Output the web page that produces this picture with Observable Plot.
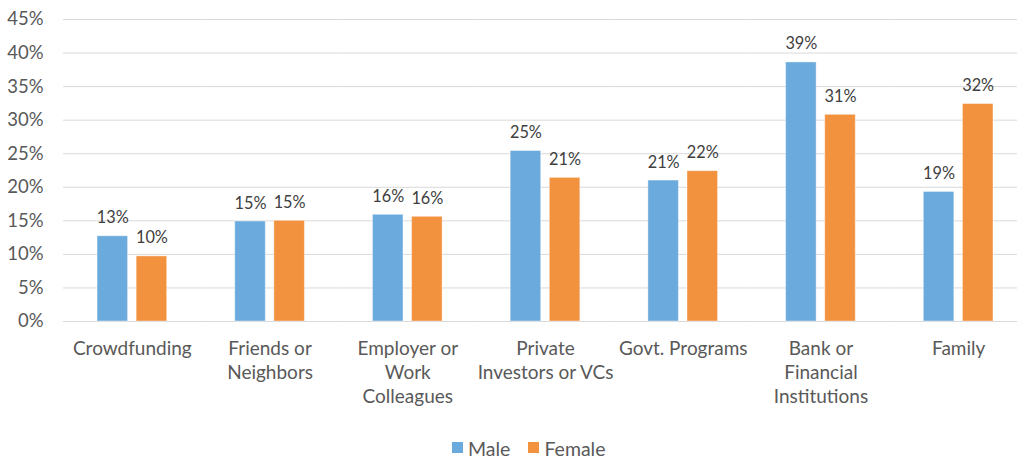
<!DOCTYPE html>
<html>
<head>
<meta charset="utf-8">
<script src="https://cdn.jsdelivr.net/npm/d3@7"></script>
<script src="https://cdn.jsdelivr.net/npm/@observablehq/plot@0.6"></script>
<style>
  html, body { margin: 0; padding: 0; background: #fff; }
  body { width: 1017px; height: 458px; overflow: hidden; font-family: Lato, "Open Sans", sans-serif; }
  #legend { position: relative; height: 28px; display: flex; align-items: center; padding-left: 452px; font-size: 19.5px; color: #595959; }
  .sw { display: inline-block; width: 11px; height: 11px; margin-right: 5px; margin-top: -2px; }
  .item { display: inline-flex; align-items: center; margin-right: 18px; }
</style>
</head>
<body>
<div id="chart"></div>
<div id="legend"></div>
<script>
const categories = ["Crowdfunding", "Friends or Neighbors", "Employer or Work Colleagues", "Private Investors or VCs", "Govt. Programs", "Bank or Financial Institutions", "Family"];
const categoryLabels = ["Crowdfunding", "Friends or\nNeighbors", "Employer or\nWork\nColleagues", "Private\nInvestors or VCs", "Govt. Programs", "Bank or\nFinancial\nInstitutions", "Family"];
const series = ["Male", "Female"];
const male = [0.127, 0.149, 0.159, 0.254, 0.210, 0.386, 0.193];
const female = [0.097, 0.150, 0.156, 0.214, 0.224, 0.308, 0.324];
const yTicks = [0, 0.05, 0.10, 0.15, 0.20, 0.25, 0.30, 0.35, 0.40, 0.45];
const colors = ["#6aaadc", "#f2913e"];

const data = categories.flatMap((c, i) => [
  {category: c, gender: series[0], value: male[i]},
  {category: c, gender: series[1], value: female[i]}
]);
const labelOf = new Map(categories.map((c, i) => [c, categoryLabels[i]]));
const pct = d3.format(".0%");

const chart = Plot.plot({
  width: 1017,
  height: 434,
  marginTop: 19,
  marginBottom: 113,
  marginLeft: 63,
  marginRight: 0,
  style: {fontFamily: "Lato, 'Open Sans', sans-serif", background: "#fff"},
  fx: {domain: categories, range: [63, 1027], paddingInner: 0, paddingOuter: 0, round: false, label: null},
  x: {domain: series, paddingInner: 0.22, paddingOuter: 0.87, round: false, axis: null, label: null},
  y: {domain: [0, 0.45], label: null},
  color: {domain: series, range: colors},
  marks: [
    Plot.ruleY(yTicks, {stroke: "#d9d9d9", strokeWidth: 1}),
    Plot.barY(data, {fx: "category", x: "gender", y: "value", fill: "gender", stroke: "#ffffff", strokeOpacity: 0.4, strokeWidth: 1}),
    Plot.text(data, {fx: "category", x: "gender", y: "value", text: d => pct(d.value), lineAnchor: "bottom", dy: -13, fontSize: 16.3, fill: "#404040"}),
    Plot.axisY({ticks: yTicks, tickFormat: pct, tickSize: 0, tickPadding: 20, fontSize: 18.5, color: "#595959", label: null}),
    Plot.axisFx({anchor: "bottom", tickSize: 0, tickPadding: 16, fontSize: 19, color: "#595959", lineHeight: 1.27, tickFormat: d => labelOf.get(d), label: null})
  ]
});
document.getElementById("chart").appendChild(chart);

const legend = document.getElementById("legend");
series.forEach((s, i) => {
  const item = document.createElement("span");
  item.className = "item";
  const sw = document.createElement("span");
  sw.className = "sw";
  sw.style.background = colors[i];
  item.appendChild(sw);
  item.appendChild(document.createTextNode(s));
  legend.appendChild(item);
});
</script>
</body>
</html>
